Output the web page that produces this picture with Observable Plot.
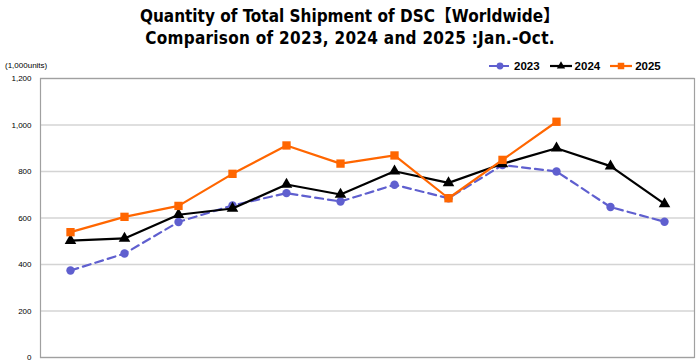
<!DOCTYPE html>
<html>
<head>
<meta charset="utf-8">
<script src="https://cdn.jsdelivr.net/npm/d3@7"></script>
<script src="https://cdn.jsdelivr.net/npm/@observablehq/plot@0.6"></script>
<style>
  html, body { margin: 0; padding: 0; background: #fff; }
  #wrap { position: relative; width: 700px; height: 364px; overflow: hidden; }
  #title { position: absolute; left: 0; top: 5px; width: 700px; text-align: center;
    font-family: "DejaVu Sans Condensed", "DejaVu Sans", "Noto Sans CJK JP", sans-serif; font-weight: bold;
    font-size: 17px; line-height: 22px; color: #000; }
  #title .l2 { letter-spacing: 0.28px; }
  #chart { position: absolute; left: 0; top: 56px; }
  #unit { position: absolute; left: 5px; top: 61px; font-family: "Liberation Sans", Arial, sans-serif; font-size: 8px; color: #000; }
  #legend { position: absolute; top: 60px; left: 488px; font-family: "Liberation Sans", Arial, sans-serif; font-size: 11.5px; font-weight: bold; display: flex; gap: 9px; }
  .item { display: flex; align-items: center; gap: 2px; }
</style>
</head>
<body>
<div id="wrap">
  <div id="title">Quantity of Total Shipment of DSC【Worldwide】<br><span class="l2">Comparison of 2023, 2024 and 2025 :Jan.-Oct.</span></div>
  <div id="unit">(1,000units)</div>
  <div id="chart"></div>
  <div id="legend"></div>
</div>
<script>
const months = ["Jan","Feb","Mar","Apr","May","Jun","Jul","Aug","Sep","Oct","Nov","Dec"];
const values2023 = [374, 447, 583, 654, 707, 671, 743, 685, 828, 800, 647, 584];
const values2024 = [503, 512, 614, 641, 744, 701, 801, 751, 833, 900, 823, 661];
const values2025 = [539, 605, 652, 790, 912, 834, 869, 685, 850, 1014];
const yTicks = [0, 200, 400, 600, 800, 1000, 1200];
const seriesNames = ["2023", "2024", "2025"];
const colors = {"2023": "#5f5fcf", "2024": "#000000", "2025": "#ff6600"};

const d23 = values2023.map((v, i) => ({month: months[i], value: v}));
const d24 = values2024.map((v, i) => ({month: months[i], value: v}));
const d25 = values2025.map((v, i) => ({month: months[i], value: v}));

const chart = Plot.plot({
  width: 700,
  height: 308,
  marginTop: 22,
  marginBottom: 7,
  marginLeft: 40,
  marginRight: 6,
  style: {fontFamily: "'Liberation Sans', Arial, sans-serif", fontSize: "8px", color: "#000"},
  x: {domain: months, type: "band", padding: 0, axis: null},
  y: {domain: [0, 1200], ticks: yTicks, tickFormat: d3.format(","), label: null, tickSize: 0, tickPadding: 9},
  marks: [
    Plot.ruleY(yTicks, {stroke: "#d4d4d4", strokeWidth: 1.5}),
    Plot.frame({stroke: "#a0a0a0", strokeWidth: 1.2}),
    Plot.axisY({ticks: yTicks, tickFormat: d3.format(","), tickSize: 0, tickPadding: 9, label: null, fontSize: 8}),
    Plot.line(d23, {x: "month", y: "value", stroke: colors["2023"], strokeWidth: 2.2, strokeDasharray: "8,5"}),
    Plot.dot(d23, {x: "month", y: "value", fill: colors["2023"], r: 4.2, symbol: "circle"}),
    Plot.line(d24, {x: "month", y: "value", stroke: colors["2024"], strokeWidth: 2.2}),
    Plot.dot(d24, {x: "month", y: "value", fill: colors["2024"], r: 4.3, symbol: "triangle"}),
    Plot.line(d25, {x: "month", y: "value", stroke: colors["2025"], strokeWidth: 2.2}),
    Plot.dot(d25, {x: "month", y: "value", fill: colors["2025"], r: 4.7, symbol: "square"})
  ]
});
document.getElementById("chart").appendChild(chart);

// Legend
const legend = d3.select("#legend");
const symbolsMap = {"2023": d3.symbolCircle, "2024": d3.symbolTriangle, "2025": d3.symbolSquare};
const sizes = {"2023": 36, "2024": 30, "2025": 42};
seriesNames.forEach(name => {
  const it = legend.append("div").attr("class", "item");
  const svg = it.append("svg").attr("width", 24).attr("height", 12);
  svg.append("line").attr("x1", 1).attr("x2", 23).attr("y1", 6).attr("y2", 6)
    .attr("stroke", colors[name]).attr("stroke-width", 2.2)
    .attr("stroke-dasharray", name === "2023" ? "8,4" : null);
  svg.append("path").attr("d", d3.symbol(symbolsMap[name], sizes[name])())
    .attr("transform", "translate(12,6)").attr("fill", colors[name]);
  it.append("span").text(name);
});
</script>
</body>
</html>
